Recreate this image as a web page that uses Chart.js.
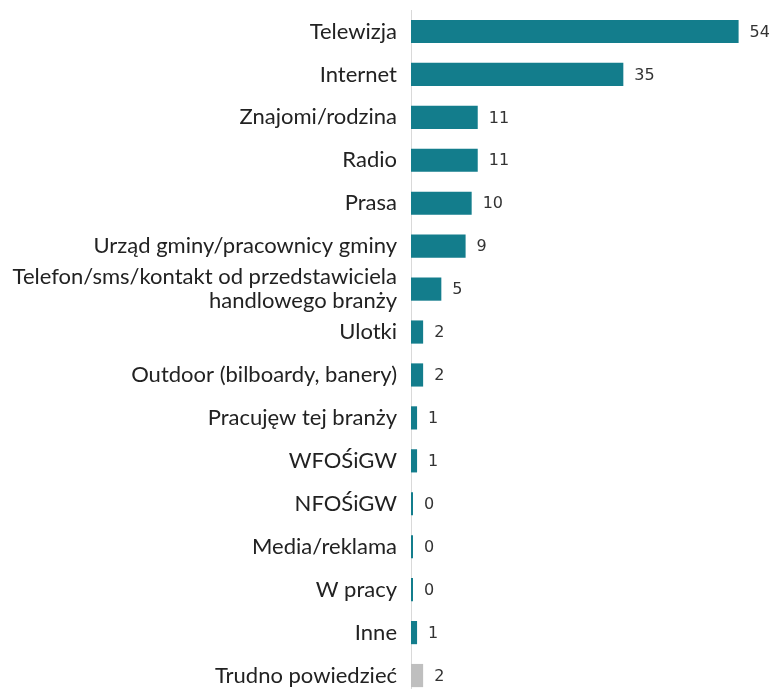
<!DOCTYPE html>
<html>
<head>
<meta charset="utf-8">
<script src="https://cdn.jsdelivr.net/npm/chart.js@4"></script>
<style>
  html, body { margin: 0; padding: 0; background: #fff; overflow: hidden; }
  #wrap { width: 775px; height: 700px; }
</style>
</head>
<body>
<div id="wrap"><canvas id="chart"></canvas></div>
<script>
const categories = [
    'Telewizja',
    'Internet',
    'Znajomi/rodzina',
    'Radio',
    'Prasa',
    'Urząd gminy/pracownicy gminy',
    ['Telefon/sms/kontakt od przedstawiciela', 'handlowego branży'],
    'Ulotki',
    'Outdoor (bilboardy, banery)',
    'Pracujęw tej branży',
    'WFOŚiGW',
    'NFOŚiGW',
    'Media/reklama',
    'W pracy',
    'Inne',
    'Trudno powiedzieć'
];
const values = [54, 35, 11, 11, 10, 9, 5, 2, 2, 1, 1, 0, 0, 0, 1, 2];
const barColors = values.map((v, i) => i === values.length - 1 ? '#bfbfbf' : '#137d8c');

/* Etykiety wartości */
const valueLabels = {
    id: 'valueLabels',
    afterDatasetsDraw(chart) {
        const ctx = chart.ctx;
        const meta = chart.getDatasetMeta(0);
        ctx.save();
        ctx.font = '16px "DejaVu Sans"';
        ctx.fillStyle = '#333';
        ctx.textBaseline = 'middle';
        meta.data.forEach((bar, i) => {
            ctx.fillText(String(values[i]), Math.max(bar.x, bar.base + 2) + 11, bar.y + 1);
        });
        ctx.restore();
    }
};

new Chart(document.getElementById('chart').getContext('2d'), {
    type: 'bar',
    data: {
        labels: categories,
        datasets: [{
            data: values,
            backgroundColor: barColors,
            barPercentage: 0.54,
            categoryPercentage: 1,
            minBarLength: 2
        }]
    },
    options: {
        indexAxis: 'y',
        responsive: true,
        maintainAspectRatio: false,
        animation: false,
        layout: { padding: { top: 10, bottom: 3, left: 0, right: 0 } },
        scales: {
            x: {
                display: false,
                min: 0,
                max: 60
            },
            y: {
                afterFit(scale) {
                    scale.width = 411;
                    scale.paddingTop = 0;
                    scale.paddingBottom = 0;
                },
                grid: { color: 'transparent', drawTicks: false },
                border: { display: true, color: '#d9d9d9', width: 1 },
                ticks: {
                    autoSkip: false,
                    padding: 14,
                    color: '#222',
                    font: { family: 'Lato', size: 22, lineHeight: 1.1 }
                }
            }
        },
        plugins: {
            legend: { display: false },
            tooltip: { enabled: false }
        }
    },
    plugins: [valueLabels]
});
</script>
</body>
</html>
